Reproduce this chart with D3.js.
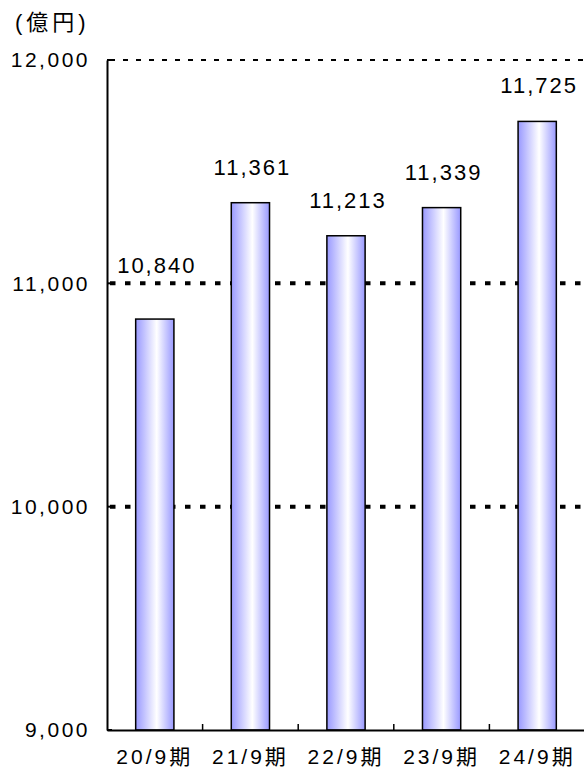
<!DOCTYPE html>
<html>
<head>
<meta charset="utf-8">
<script src="https://cdn.jsdelivr.net/npm/d3@7"></script>
<style>
  body { margin: 0; background: #fff; }
  svg text { font-family: "Liberation Sans", "Noto Sans CJK JP", sans-serif; fill: #000; }
</style>
</head>
<body>
<svg id="chart" width="584" height="769"></svg>
<script>
var categories = ['20/9期', '21/9期', '22/9期', '23/9期', '24/9期'];
var values = [10840, 11361, 11213, 11339, 11725];
var yTicks = [9000, 10000, 11000, 12000];

var margin = {top: 60, left: 107, bottom: 39}
  , width = 584 - margin.left + 1
  , height = 769 - margin.top - margin.bottom;

var svg = d3.select('#chart');

var defs = svg.append('defs');
var grad = defs.append('linearGradient').attr('id', 'barFill')
    .attr('x1', '0%').attr('x2', '100%').attr('y1', '0%').attr('y2', '0%');
grad.append('stop').attr('offset', '0%').attr('stop-color', '#9999ff');
grad.append('stop').attr('offset', '55%').attr('stop-color', '#ffffff');
grad.append('stop').attr('offset', '100%').attr('stop-color', '#9999ff');

var g = svg.append('g')
    .attr('transform', 'translate(' + margin.left + ',' + margin.top + ')');

var xScale = d3.scaleBand()
    .domain(categories)
    .range([0, width])
    .paddingInner(0.6)
    .paddingOuter(0.3);

var yScale = d3.scaleLinear()
    .domain([9000, 12000])
    .range([height, 0]);

// gridlines
g.selectAll('.grid')
    .data(yTicks.filter(function(d) { return d > 9000; }))
    .enter().append('line')
    .attr('x1', 3).attr('x2', width)
    .attr('y1', function(d) { return yScale(d); })
    .attr('y2', function(d) { return yScale(d); })
    .attr('stroke', '#000')
    .attr('stroke-width', function(d) { return d === 12000 ? 2 : 4; })
    .attr('stroke-dasharray', function(d) { return d === 12000 ? '5,8' : '5.5,9.5'; });

// bars
g.selectAll('.bar')
    .data(values)
    .enter().append('rect')
    .attr('x', function(d, i) { return xScale(categories[i]); })
    .attr('width', xScale.bandwidth())
    .attr('y', function(d) { return yScale(d); })
    .attr('height', function(d) { return height - yScale(d); })
    .attr('fill', 'url(#barFill)')
    .attr('stroke', '#000')
    .attr('stroke-width', 1.5);

// value labels: sit above the bar, pushed above a gridline if they would hit it
function labelCenter(d) {
  var c = yScale(d) - 36;
  yTicks.forEach(function(t) {
    var gy = yScale(t);
    if (Math.abs(c - gy) < 12) c = gy - 18;
  });
  return c;
}
g.selectAll('.label')
    .data(values)
    .enter().append('text')
    .attr('x', function(d, i) { return xScale(categories[i]) + xScale.bandwidth() / 2 + 2; })
    .attr('y', function(d) { return labelCenter(d) + 8; })
    .attr('text-anchor', 'middle')
    .style('font-size', '22px')
    .style('letter-spacing', '2px')
    .text(function(d) { return d3.format(',')(d); });

// y axis
var yAxis = g.append('g')
    .call(d3.axisLeft(yScale).tickValues(yTicks).tickFormat(d3.format(',')).tickSize(0).tickPadding(17));
yAxis.select('.domain').attr('stroke', '#000').attr('stroke-width', 2);
yAxis.selectAll('text').style('font-size', '21px').style('letter-spacing', '2.5px');
g.selectAll('.ytick')
    .data(yTicks)
    .enter().append('line')
    .attr('x1', 0).attr('x2', 5)
    .attr('y1', function(d) { return yScale(d); })
    .attr('y2', function(d) { return yScale(d); })
    .attr('stroke', '#000').attr('stroke-width', 2);

// x axis
var xAxis = g.append('g')
    .attr('transform', 'translate(0,' + height + ')')
    .call(d3.axisBottom(xScale).tickSize(0).tickPadding(19));
xAxis.select('.domain').attr('stroke', '#000').attr('stroke-width', 2);
xAxis.selectAll('text').style('font-size', '21px').style('letter-spacing', '3px');
var step = xScale.step();
g.selectAll('.xtick')
    .data(categories.slice(1))
    .enter().append('line')
    .attr('x1', function(d) { return xScale(d) - xScale.paddingInner() * step / 2; })
    .attr('x2', function(d) { return xScale(d) - xScale.paddingInner() * step / 2; })
    .attr('y1', height).attr('y2', height - 6)
    .attr('stroke', '#000').attr('stroke-width', 1.5);

// unit label
svg.append('text')
    .attr('x', 15).attr('y', 30)
    .style('font-size', '22px')
    .style('letter-spacing', '4px')
    .text('(億円)');
</script>
</body>
</html>
